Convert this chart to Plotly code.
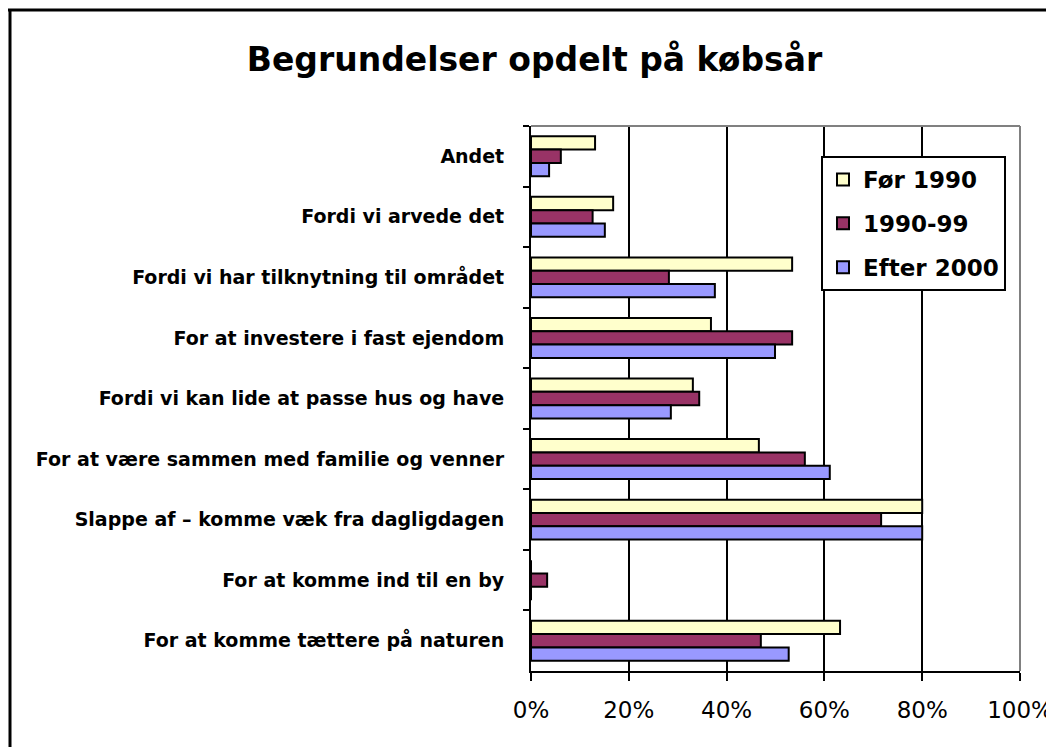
import plotly.graph_objects as go

categories = [
    "Andet",
    "Fordi vi arvede det",
    "Fordi vi har tilknytning til området",
    "For at investere i fast ejendom",
    "Fordi vi kan lide at passe hus og have",
    "For at være sammen med familie og venner",
    "Slappe af – komme væk fra dagligdagen",
    "For at komme ind til en by",
    "For at komme tættere på naturen",
]
series_names = ["Før 1990", "1990-99", "Efter 2000"]
foer_1990 = [0.131, 0.168, 0.534, 0.368, 0.331, 0.466, 0.80, 0.0, 0.632]
aar_1990_99 = [0.061, 0.126, 0.282, 0.534, 0.344, 0.56, 0.716, 0.033, 0.47]
efter_2000 = [0.037, 0.151, 0.376, 0.499, 0.286, 0.611, 0.80, 0.0, 0.527]
values = [foer_1990, aar_1990_99, efter_2000]
colors = ["#FFFFCC", "#993366", "#9999FF"]
x_ticks = [0, 0.2, 0.4, 0.6, 0.8, 1.0]
x_ticklabels = ["0%", "20%", "40%", "60%", "80%", "100%"]

# page has an 8px body margin; work in reference pixels and shift
OFF = 8
W, H = 1054 - OFF, 747 - OFF
L, R, T, B = 531 - OFF, 1020 - OFF, 126 - OFF, 671 - OFF
FONT = "DejaVu Sans, Liberation Sans, Arial, sans-serif"

fig = go.Figure()
for i, (name, vals, col) in enumerate(zip(series_names, values, colors)):
    fig.add_trace(go.Bar(
        y=categories, x=vals, name=name, orientation="h",
        marker=dict(color=col, line=dict(color="black", width=2)),
        legendgroup=f"g{i}",
    ))

fig.update_layout(
    width=W, height=H,
    margin=dict(l=L, r=W - R, t=T, b=H - B, pad=0, autoexpand=False),
    paper_bgcolor="white", plot_bgcolor="white",
    barmode="group", bargap=0.34, bargroupgap=0,
    font=dict(family=FONT, color="black"),
    title=dict(text="<b>Begrundelser opdelt på købsår</b>",
               x=(534.5 - OFF) / W, xanchor="center",
               y=1 - (59 - OFF) / H, yanchor="middle",
               font=dict(size=33, color="black", family=FONT)),
    showlegend=True,
    legend=dict(
        x=(821 - OFF - L) / (R - L), xanchor="left",
        y=(B - (156 - OFF)) / (B - T), yanchor="top",
        bgcolor="white", bordercolor="black", borderwidth=2,
        font=dict(size=23, color="black", family=FONT, weight="bold"),
        traceorder="grouped", tracegroupgap=11,
        itemwidth=30,
    ),
    xaxis=dict(
        range=[0, 1], tickvals=x_ticks, ticktext=x_ticklabels,
        showgrid=True, gridcolor="black", gridwidth=2,
        showline=True, linecolor="black", linewidth=2,
        ticks="outside", ticklen=8, tickwidth=2, tickcolor="black",
        tickfont=dict(size=23, color="black", family=FONT),
        ticklabelstandoff=9,
        zeroline=False, fixedrange=True,
    ),
    yaxis=dict(
        autorange="reversed",
        showline=True, linecolor="black", linewidth=2,
        ticks="outside", ticklen=6, tickwidth=2, tickcolor="black",
        tickson="boundaries", showgrid=False,
        tickfont=dict(size=19, color="black", family=FONT, weight="bold"),
        ticklabelstandoff=21,
    ),
)

# grey plot-area border (top and right)
fig.add_shape(type="line", xref="x domain", yref="y domain", x0=0, x1=1, y0=1, y1=1,
              line=dict(color="#808080", width=2))
fig.add_shape(type="line", xref="x domain", yref="y domain", x0=1, x1=1, y0=0, y1=1,
              line=dict(color="#808080", width=2))

# outer chart border (left and top, continues beyond the image)
pw, ph = R - L, B - T
fig.add_shape(type="line", xref="paper", yref="paper",
              x0=(2 - L) / pw, x1=(2 - L) / pw,
              y0=(B - 800) / ph, y1=(B - 1) / ph,
              line=dict(color="black", width=3))
fig.add_shape(type="line", xref="paper", yref="paper",
              x0=(0 - L) / pw, x1=(1100 - L) / pw,
              y0=(B - 2) / ph, y1=(B - 2) / ph,
              line=dict(color="black", width=3))

fig.write_html("out.html")
